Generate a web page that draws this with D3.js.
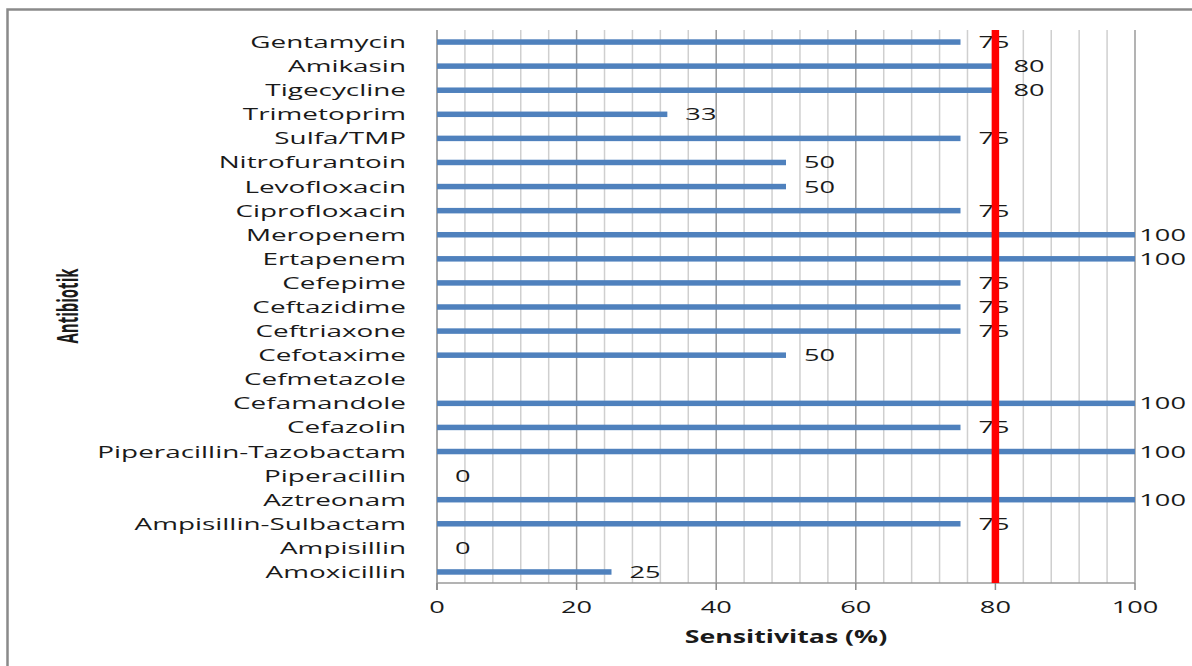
<!DOCTYPE html>
<html>
<head>
<meta charset="utf-8">
<script src="https://cdn.jsdelivr.net/npm/d3@7"></script>
<style>
  html, body { margin: 0; padding: 0; background: #fff; }
  svg { display: block; }
  text { font-family: "Open Sans", sans-serif; fill: #1a1a1a; }
</style>
</head>
<body>
<script>
// Antibiotic sensitivity (%) — horizontal bar chart with an 80% reference line
const categories = [
  "Gentamycin", "Amikasin", "Tigecycline", "Trimetoprim", "Sulfa/TMP",
  "Nitrofurantoin", "Levofloxacin", "Ciprofloxacin", "Meropenem", "Ertapenem",
  "Cefepime", "Ceftazidime", "Ceftriaxone", "Cefotaxime", "Cefmetazole",
  "Cefamandole", "Cefazolin", "Piperacillin-Tazobactam", "Piperacillin",
  "Aztreonam", "Ampisillin-Sulbactam", "Ampisillin", "Amoxicillin"
];
const sensitivity = [
  75, 80, 80, 33, 75,
  50, 50, 75, 100, 100,
  75, 75, 75, 50, null,
  100, 75, 100, 0,
  100, 75, 0, 25
];
const xTicks = [0, 20, 40, 60, 80, 100];
const threshold = 80;
const xTitle = "Sensitivitas (%)";
const yTitle = "Antibiotik";

const W = 1192, H = 666;
const plot = { left: 437, right: 1135, top: 30, bottom: 584 };
const stretch = 1.6;
const catStretch = 1.64;

const svg = d3.select("body").append("svg")
  .attr("width", W).attr("height", H);

// outer frame
svg.append("rect")
  .attr("x", 7.5).attr("y", 9.5)
  .attr("width", W + 20).attr("height", H + 20)
  .attr("fill", "none").attr("stroke", "#8a8a8a").attr("stroke-width", 2.5);

const x = d3.scaleLinear().domain([0, 100]).range([plot.left, plot.right]);
const y = d3.scaleBand().domain(categories).range([plot.top, plot.bottom]).paddingInner(0);

// gridlines: minor every 4, major every 20
const minor = d3.range(4, 100.01, 4).filter(v => v % 20 !== 0);
svg.append("g").selectAll("line").data(minor).join("line")
  .attr("x1", d => x(d)).attr("x2", d => x(d))
  .attr("y1", plot.top).attr("y2", plot.bottom - 1)
  .attr("stroke", "#cfcfcf").attr("stroke-width", 1.5);
svg.append("g").selectAll("line").data(xTicks.filter(v => v > 0)).join("line")
  .attr("x1", d => x(d)).attr("x2", d => x(d))
  .attr("y1", plot.top).attr("y2", plot.bottom - 1)
  .attr("stroke", "#9a9a9a").attr("stroke-width", 1.5);

// axes lines and major ticks
svg.append("line")
  .attr("x1", plot.left).attr("x2", plot.left)
  .attr("y1", plot.top).attr("y2", plot.bottom + 6)
  .attr("stroke", "#8a8a8a").attr("stroke-width", 1.5);
svg.append("line")
  .attr("x1", plot.left).attr("x2", plot.right)
  .attr("y1", plot.bottom - 1).attr("y2", plot.bottom - 1)
  .attr("stroke", "#9a9a9a").attr("stroke-width", 1.5);
svg.append("g").selectAll("line").data(xTicks).join("line")
  .attr("x1", d => x(d)).attr("x2", d => x(d))
  .attr("y1", plot.bottom - 1).attr("y2", plot.bottom + 6)
  .attr("stroke", "#8a8a8a").attr("stroke-width", 1.5);

// x tick labels
svg.append("g").selectAll("text").data(xTicks).join("text")
  .attr("transform", d => `translate(${x(d)},613) scale(${stretch},1)`)
  .attr("text-anchor", "middle")
  .attr("font-size", 17)
  .text(d => d);

// category labels
svg.append("g").selectAll("text").data(categories).join("text")
  .attr("transform", d => `translate(406,${y(d) + y.bandwidth() / 2 + 6}) scale(${catStretch},1)`)
  .attr("text-anchor", "end")
  .attr("font-size", 17)
  .text(d => d);

// bars
const rows = categories.map((c, i) => ({ c, v: sensitivity[i] }));
const barH = 5.5;
svg.append("g").selectAll("rect").data(rows.filter(r => r.v !== null)).join("rect")
  .attr("x", x(0))
  .attr("y", d => y(d.c) + y.bandwidth() / 2 - barH / 2)
  .attr("width", d => x(d.v) - x(0))
  .attr("height", barH)
  .attr("fill", "#4f81bd");

// value labels, kept inside the frame on the right
const labels = svg.append("g").selectAll("text").data(rows.filter(r => r.v !== null)).join("text")
  .attr("font-size", 17)
  .text(d => d.v);
labels.each(function (d) {
  const w = this.getComputedTextLength() * stretch;
  const lx = Math.min(x(d.v) + 18, W - 6 - w);
  d3.select(this).attr("transform",
    `translate(${lx},${y(d.c) + y.bandwidth() / 2 + 6}) scale(${stretch},1)`);
});

// 80% reference line
svg.append("line")
  .attr("x1", x(threshold)).attr("x2", x(threshold))
  .attr("y1", plot.top).attr("y2", plot.bottom - 1)
  .attr("stroke", "#ff0000").attr("stroke-width", 7.5);

// axis titles
svg.append("text")
  .attr("transform", `translate(${(plot.left + plot.right) / 2},643) scale(1.57,1)`)
  .attr("text-anchor", "middle")
  .attr("font-size", 17).attr("font-weight", "bold")
  .text(xTitle);

svg.append("text")
  .attr("transform", `translate(78,306) rotate(-90) scale(1,1.9)`)
  .attr("text-anchor", "middle")
  .attr("font-size", 15).attr("font-weight", "bold")
  .text(yTitle);
</script>
</body>
</html>
